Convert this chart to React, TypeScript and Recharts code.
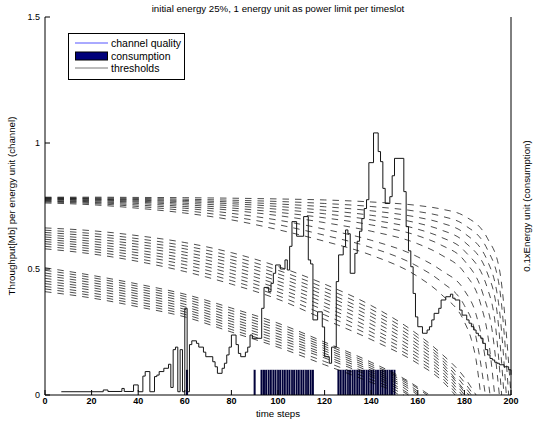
import React from 'react';
import { Bar, ComposedChart, Legend, Line, XAxis, YAxis } from 'recharts';

const FONT = '"Liberation Sans", Arial, Helvetica, sans-serif';

const title = 'initial energy 25%, 1 energy unit as power limit per timeslot';
const timeTicks = [0, 20, 40, 60, 80, 100, 120, 140, 160, 180, 200];
const valueTicks = [0, 0.5, 1, 1.5];

// channel quality: [time step, value] at every step change
const channelQuality: [number, number][] = [
	[7, 0.013], [25, 0.02], [27, 0.014], [33, 0.026], [34, 0.014], [38, 0.04], [40, 0.013],
	[42, 0.075], [43, 0.093], [45, 0.013], [47, 0.073], [48, 0.079], [49, 0.093], [51, 0.106],
	[53, 0.122], [54, 0.03], [55, 0.18], [56, 0.19], [57, 0.013], [58, 0.18], [59, 0.013],
	[60, 0.344], [61, 0.013], [62, 0.2], [63, 0.215], [65, 0.205], [66, 0.19], [68, 0.17],
	[69, 0.152], [72, 0.132], [73, 0.112], [74, 0.086], [76, 0.106], [77, 0.126], [78, 0.159],
	[79, 0.19], [80, 0.238], [82, 0.2], [83, 0.165], [84, 0.152], [86, 0.17], [87, 0.19],
	[88, 0.238], [89, 0.225], [93, 0.344], [94, 0.427], [96, 0.41], [97, 0.443], [98, 0.483],
	[99, 0.516], [101, 0.5], [103, 0.536], [104, 0.496], [105, 0.59], [106, 0.688], [108, 0.63],
	[111, 0.708], [113, 0.536], [114, 0.52], [115, 0.298], [117, 0.33], [119, 0.27], [120, 0.152],
	[122, 0.126], [123, 0.19], [125, 0.45], [126, 0.556], [128, 0.589], [129, 0.655], [130, 0.64],
	[131, 0.483], [133, 0.562], [134, 0.61], [135, 0.65], [136, 0.7], [137, 0.74], [138, 0.775],
	[139, 0.922], [141, 1.04], [143, 0.966], [144, 0.926], [145, 0.82], [146, 0.76], [148, 0.787],
	[149, 0.87], [150, 0.939], [154, 0.807], [155, 0.668], [156, 0.572], [157, 0.509], [158, 0.403],
	[159, 0.31], [160, 0.271], [162, 0.245], [164, 0.258], [165, 0.271], [166, 0.298], [167, 0.324],
	[169, 0.344], [170, 0.377], [172, 0.39], [174, 0.4], [175, 0.384], [176, 0.377], [178, 0.337],
	[179, 0.317], [181, 0.298], [182, 0.285], [183, 0.271], [184, 0.258], [185, 0.245], [186, 0.235],
	[187, 0.225], [188, 0.205], [189, 0.18], [190, 0.159], [191, 0.145], [192, 0.139], [193, 0.13],
	[194, 0.126], [195, 0.12], [197, 0.112], [199, 0.1], [200, 0.08]
];

// time steps with energy consumption (all at 0.1)
const consumptionSteps = [
	61, 90,
	93, 94, 95, 96, 97, 98, 99, 100, 101, 102, 103, 104, 105, 106, 107, 108, 109, 110, 111, 112, 113, 114, 115,
	126, 127, 128, 129, 130, 131, 132, 133, 134, 135, 136, 137, 138, 139, 140, 141, 142, 143, 144, 145, 146,
	147, 148, 149, 150
];
const consumptionLevel = 0.1;

// thresholds, upper bundle
const thresholdsHigh: [number, number][][] = [
	[[0, .785], [20, .785], [40, .784], [60, .783], [80, .781], [100, .778], [120, .774], [140, .766], [160, .752], [170, .738], [180, .71], [190, .62], [195, .5], [200, 0]],
	[[0, .783], [20, .782], [40, .78], [60, .777], [80, .773], [100, .768], [120, .76], [140, .748], [160, .728], [170, .71], [180, .675], [190, .575], [195, .43], [199, 0]],
	[[0, .781], [20, .779], [40, .776], [60, .772], [80, .766], [100, .758], [120, .747], [140, .731], [160, .705], [170, .683], [180, .642], [190, .53], [195, .34], [198, 0]],
	[[0, .779], [20, .777], [40, .773], [60, .767], [80, .759], [100, .748], [120, .733], [140, .713], [160, .682], [170, .655], [180, .608], [190, .48], [194, .33], [197, 0]],
	[[0, .777], [20, .774], [40, .769], [60, .761], [80, .751], [100, .737], [120, .719], [140, .695], [160, .658], [170, .626], [180, .572], [190, .42], [193, .3], [196, 0]],
	[[0, .775], [20, .771], [40, .765], [60, .755], [80, .742], [100, .725], [120, .703], [140, .675], [160, .632], [170, .595], [180, .533], [188, .4], [192, .25], [195, 0]],
	[[0, .772], [20, .767], [40, .76], [60, .748], [80, .733], [100, .712], [120, .684], [140, .65], [160, .6], [170, .556], [180, .485], [187, .36], [190, .24], [193, 0]],
	[[0, .769], [20, .764], [40, .754], [60, .741], [80, .721], [100, .694], [120, .658], [140, .614], [160, .548], [170, .495], [180, .415], [185, .32], [188, .2], [191, 0]],
	[[0, .766], [20, .76], [40, .748], [60, .732], [80, .708], [100, .676], [120, .634], [140, .585], [160, .51], [170, .45], [180, .355], [184, .27], [186, .18], [189, 0]],
	[[0, .762], [20, .755], [40, .741], [60, .722], [80, .695], [100, .656], [120, .61], [140, .555], [160, .47], [170, .4], [180, .29], [183, .22], [185, .14], [187, 0]]
];

// thresholds, middle bundle
const thresholdsMid: [number, number][][] = [
	[[0, .663], [20, .652], [40, .632], [60, .605], [80, .565], [100, .51], [120, .44], [140, .355], [160, .24], [170, .165], [180, .07], [185, 0]],
	[[0, .654], [20, .641], [40, .62], [60, .592], [80, .551], [100, .495], [120, .425], [140, .34], [160, .228], [170, .153], [180, .05], [184, 0]],
	[[0, .645], [20, .631], [40, .609], [60, .58], [80, .537], [100, .481], [120, .41], [140, .325], [160, .215], [170, .142], [180, .035], [183, 0]],
	[[0, .636], [20, .62], [40, .598], [60, .567], [80, .524], [100, .467], [120, .396], [140, .311], [160, .202], [170, .131], [180, .02], [182, 0]],
	[[0, .627], [20, .61], [40, .587], [60, .555], [80, .51], [100, .452], [120, .381], [140, .296], [160, .189], [170, .119], [181, 0]],
	[[0, .618], [20, .6], [40, .575], [60, .542], [80, .496], [100, .438], [120, .366], [140, .281], [160, .176], [170, .108], [180, 0]],
	[[0, .609], [20, .59], [40, .564], [60, .53], [80, .482], [100, .423], [120, .351], [140, .265], [160, .163], [170, .096], [179, 0]],
	[[0, .6], [20, .58], [40, .553], [60, .517], [80, .468], [100, .409], [120, .336], [140, .25], [160, .15], [170, .084], [178, 0]],
	[[0, .59], [20, .57], [40, .541], [60, .503], [80, .454], [100, .394], [120, .318], [140, .235], [160, .137], [170, .072], [177, 0]],
	[[0, .58], [20, .56], [40, .53], [60, .49], [80, .44], [100, .38], [120, .3], [140, .22], [160, .125], [170, .06], [176, 0]]
];

// thresholds, lower bundle
const thresholdsLow: [number, number][][] = [
	[[0, .505], [20, .475], [40, .44], [60, .4], [80, .345], [100, .285], [120, .21], [140, .13], [155, .06], [165, 0]],
	[[0, .495], [20, .466], [40, .431], [60, .391], [80, .335], [100, .275], [120, .202], [140, .122], [155, .055], [164, 0]],
	[[0, .484], [20, .456], [40, .421], [60, .381], [80, .324], [100, .264], [120, .193], [140, .114], [155, .048], [162, 0]],
	[[0, .474], [20, .446], [40, .411], [60, .371], [80, .313], [100, .254], [120, .184], [140, .106], [155, .04], [161, 0]],
	[[0, .463], [20, .436], [40, .401], [60, .36], [80, .302], [100, .243], [120, .175], [140, .098], [155, .032], [160, 0]],
	[[0, .452], [20, .426], [40, .391], [60, .35], [80, .292], [100, .232], [120, .165], [140, .09], [155, .022], [158, 0]],
	[[0, .442], [20, .416], [40, .381], [60, .34], [80, .281], [100, .222], [120, .156], [140, .081], [150, .04], [157, 0]],
	[[0, .431], [20, .405], [40, .37], [60, .33], [80, .271], [100, .211], [120, .147], [140, .073], [150, .032], [156, 0]],
	[[0, .421], [20, .395], [40, .36], [60, .32], [80, .26], [100, .2], [120, .133], [140, .061], [150, .022], [154, 0]],
	[[0, .41], [20, .385], [40, .35], [60, .31], [80, .25], [100, .19], [120, .12], [140, .05], [150, .012], [152, 0]]
];

const thresholds = [...thresholdsHigh, ...thresholdsMid, ...thresholdsLow];

// one row per time step
const rows: Record<string, number>[] = [];
for (let t = 0; t <= 200; t++) rows.push({ t });
channelQuality.forEach(([t, v]) => { rows[t].ch = v; });
consumptionSteps.forEach(t => { rows[t].cons = consumptionLevel; });
thresholds.forEach((curve, i) => curve.forEach(([t, v]) => { rows[t]['th' + i] = v; }));

const ConsumptionBar = (props: any) => {
	const { x, y, width, height, payload } = props;
	if (!height) return null;
	const edge = payload.t % 2 === 0 && payload.t !== 94 && payload.t !== 126;
	return (
		<g>
			<rect x={x} y={y} width={width} height={height} fill='#00003a' />
			{edge ? <line x1={x} x2={x} y1={y} y2={y + height} stroke='#b4b4c4' strokeWidth={0.6} /> : null}
		</g>
	);
};

const LegendBox = () => (
	<div
		style={{
			border: '1px solid #000',
			background: '#fff',
			padding: '3px 3px 4px 6px',
			fontFamily: FONT,
			fontSize: 10.5,
			lineHeight: '12.5px',
			color: '#000'
		}}
	>
		<div style={{ display: 'flex', alignItems: 'center' }}>
			<svg width={33} height={10}>
				<line x1={0} x2={33} y1={5} y2={5} stroke='#2a2aff' strokeWidth={0.8} />
			</svg>
			<span style={{ marginLeft: 3 }}>channel quality</span>
		</div>
		<div style={{ display: 'flex', alignItems: 'center' }}>
			<svg width={33} height={10}>
				<rect x={0.5} y={1} width={32} height={8} fill='#00007a' stroke='#000' strokeWidth={1} />
			</svg>
			<span style={{ marginLeft: 3 }}>consumption</span>
		</div>
		<div style={{ display: 'flex', alignItems: 'center' }}>
			<svg width={33} height={10}>
				<line x1={0} x2={33} y1={5} y2={5} stroke='#555' strokeWidth={0.8} />
			</svg>
			<span style={{ marginLeft: 3 }}>thresholds</span>
		</div>
	</div>
);

const tickStyle = { fontSize: 9, fill: '#000', fontFamily: FONT };

const sideLabel = (cx: number): React.CSSProperties => ({
	position: 'absolute',
	left: cx - 189,
	top: 206 - 6,
	width: 378,
	height: 12,
	lineHeight: '12px',
	textAlign: 'center',
	transform: 'rotate(-90deg)',
	fontFamily: FONT,
	fontSize: 9.7
});

const App = () => (
	<div style={{ position: 'absolute', left: 0, top: 0, width: 540, height: 423, background: '#fff' }}>
		<div style={{ position: 'absolute', left: 45, width: 466, top: 3, textAlign: 'center', fontFamily: FONT, fontSize: 9.7 }}>
			{title}
		</div>
		<ComposedChart width={540} height={423} data={rows} margin={{ top: 17, right: 8, bottom: 0, left: 0 }}>
			<XAxis
				dataKey='t'
				type='number'
				domain={[0, 200]}
				ticks={timeTicks}
				interval={0}
				height={28}
				tickSize={-5}
				tickMargin={8}
				stroke='#000'
				tick={{ ...tickStyle, fontWeight: 'bold' }}
			/>
			<XAxis xAxisId='top' orientation='top' type='number' domain={[0, 200]} ticks={timeTicks} interval={0} height={0} tickSize={-5} tick={false} stroke='#000' />
			<YAxis domain={[0, 1.5]} ticks={valueTicks} interval={0} width={45} tickSize={-5} tickMargin={10} stroke='#000' tick={tickStyle} />
			<YAxis yAxisId='right' orientation='right' domain={[0, 1.5]} ticks={valueTicks} interval={0} width={21} tickSize={-5} tick={false} stroke='#000' />
			<Bar dataKey='cons' barSize={2.4} shape={ConsumptionBar} isAnimationActive={false} legendType='none' />
			{thresholds.map((_, i) => (
				<Line
					key={i}
					dataKey={'th' + i}
					type='monotone'
					connectNulls
					dot={false}
					activeDot={false}
					stroke='#000'
					strokeWidth={0.7}
					strokeDasharray='6.5 6'
					isAnimationActive={false}
					legendType='none'
				/>
			))}
			<Line
				dataKey='ch'
				type='stepAfter'
				connectNulls
				dot={false}
				activeDot={false}
				stroke='#151515'
				strokeWidth={1}
				isAnimationActive={false}
				legendType='none'
			/>
			<Legend
				layout='horizontal'
				verticalAlign='middle'
				align='center'
				content={<LegendBox />}
				wrapperStyle={{ top: 33, left: 68, width: 'auto', height: 'auto' }}
			/>
		</ComposedChart>
		<div style={{ position: 'absolute', left: 45, width: 466, top: 408, textAlign: 'center', fontFamily: FONT, fontSize: 9.7 }}>
			time steps
		</div>
		<div style={sideLabel(12)}>Throughput[Mb] per energy unit (channel)</div>
		<div style={sideLabel(527)}>0.1xEnergy unit (consumption)</div>
	</div>
);

export default App;
